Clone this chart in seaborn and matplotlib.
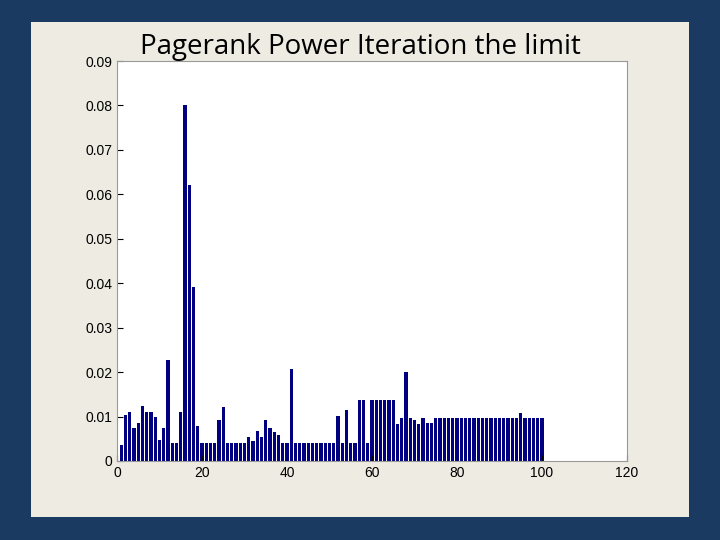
import matplotlib
matplotlib.use("Agg")
import matplotlib.pyplot as plt
import seaborn as sns
import numpy as np
from matplotlib.patches import Rectangle

nodes = list(range(1, 101))
pagerank = [
    0.0036, 0.0104, 0.0110, 0.0074, 0.0085, 0.0124, 0.0110, 0.0110, 0.0098, 0.0048,
    0.0075, 0.0227, 0.0040, 0.0040, 0.0110, 0.0800, 0.0620, 0.0392, 0.0078, 0.0040,
    0.0040, 0.0040, 0.0040, 0.0092, 0.0122, 0.0040, 0.0040, 0.0040, 0.0040, 0.0040,
    0.0054, 0.0045, 0.0068, 0.0054, 0.0092, 0.0075, 0.0066, 0.0059, 0.0040, 0.0040,
    0.0207, 0.0040, 0.0040, 0.0040, 0.0040, 0.0040, 0.0040, 0.0040, 0.0040, 0.0040,
    0.0040, 0.0101, 0.0040, 0.0115, 0.0040, 0.0040, 0.0138, 0.0138, 0.0040, 0.0138,
    0.0138, 0.0138, 0.0138, 0.0138, 0.0138, 0.0083, 0.0096, 0.0201, 0.0096, 0.0092,
    0.0083, 0.0096, 0.0085, 0.0085, 0.0096, 0.0096, 0.0096, 0.0096, 0.0096, 0.0096,
    0.0096, 0.0096, 0.0096, 0.0096, 0.0096, 0.0096, 0.0096, 0.0096, 0.0096, 0.0096,
    0.0096, 0.0096, 0.0096, 0.0096, 0.0109, 0.0096, 0.0096, 0.0096, 0.0096, 0.0096,
]
title = "Pagerank Power Iteration the limit"

fig = plt.figure(figsize=(7.2, 5.4), dpi=100)
fig.patch.set_facecolor("#1b3a61")
fig.add_artist(Rectangle((31/720, 23/540), 658/720, 495/540, transform=fig.transFigure,
                         facecolor="#eeebe2", edgecolor="none", zorder=-5))
ax = fig.add_axes([117/720, 79/540, 510/720, 400/540])
ax.set_zorder(5)
ax.set_facecolor("white")
sns.barplot(x=nodes, y=pagerank, native_scale=True, color="#000080", width=0.8,
            saturation=1, ax=ax, edgecolor="none")
ax.set_xlim(0, 120)
ax.set_ylim(0, 0.09)
ax.set_xticks(range(0, 121, 20))
ax.set_xticklabels([str(v) for v in range(0, 121, 20)])
ax.set_yticks(np.arange(0, 0.0901, 0.01))
ax.set_yticklabels(["0"] + [f"{v:.2f}" for v in np.arange(0.01, 0.0901, 0.01)])
ax.tick_params(labelsize=10, direction="in", length=4, colors="black")
for lbl in ax.get_xticklabels() + ax.get_yticklabels():
    lbl.set_fontfamily("Liberation Sans")
for s in ax.spines.values():
    s.set_color("#999999")
    s.set_linewidth(0.8)
ax.set_xlabel("")
ax.set_ylabel("")
fig.text(360/720, 1 - 47/540, title, ha="center", va="center", fontsize=20,
         fontfamily="Open Sans", color="black", zorder=10)
fig.savefig("out.png", dpi=100, facecolor=fig.get_facecolor())
